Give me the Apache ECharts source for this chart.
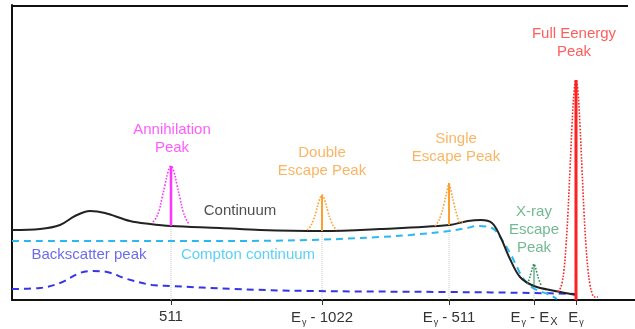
<!DOCTYPE html>
<html>
<head>
<meta charset="utf-8">
<script src="https://cdn.jsdelivr.net/npm/echarts@6/dist/echarts.min.js"></script>
<style>html,body{margin:0;padding:0;background:#fff}#c{width:635px;height:329px}</style>
</head>
<body>
<div id="c"></div>
<script>
// x: schematic channel, y: schematic counts
const continuum = [[0,70],[28,71],[48,75],[63,84],[78,89],[93,87],[118,79],[138,76],[159,74],[208,72],[248,70],[310,69],[368,71],[437,75],[456,79],[469,80],[480,77],[488,64],[498,41],[508,23],[522,14],[543,9],[564,5]];
const compton = [[0,59],[100,59],[200,59],[298,60],[368,63],[398,65],[437,69],[455,72],[465,74],[480,72],[488,63],[498,47],[505,33],[511,22],[521,12],[538,5],[545,1]];
const backscatter = [[0,11],[28,12],[48,17],[68,27],[80,29],[95,28],[115,21],[140,15],[159,14],[221,11],[298,9],[437,8],[522,7],[564,6]];
const annihilationPeak = [[141,78],[144,82],[147,89],[150,102],[153,115],[156,128],[159,134],[162,128],[165,115],[168,102],[171,89],[174,81],[177,76]];
const doubleEscapePeak = [[295,70],[298,73],[301,79],[304,88],[307,99],[310,105],[313,99],[316,88],[319,79],[322,73],[325,70]];
const singleEscapePeak = [[423,74],[426,78],[429,85],[432,96],[435,109],[437,116],[439,109],[442,96],[445,85],[448,78],[451,78]];
const xrayEscapePeak = [[515,16],[517,20],[519,27],[521,34],[522,36],[523,34],[525,27],[527,20],[529,15]];
const fullEnergyPeak = [[546,8],[548,11],[550,17],[552,30],[554,54],[556,88],[558,131],[560,174],[562,208],[564,220],[566,208],[568,174],[570,131],[572,88],[574,54],[576,30],[578,15],[580,7],[582,3],[586,3]];
const tickPositions = [159, 310, 437, 522, 564];
const tickLabels = ['511', '{e|E}{s|γ}{e| - 1022}', '{e|E}{s|γ}{e| - 511}', '{e|E}{s|γ}{e| - E}{x|X}', '{e|E}{s|γ}'];
const contAtTicks = [74, 69, 75, 14];
const annotations = [
  {text: 'Annihilation\nPeak', x: 160, y: 161, color: '#ff33ff'},
  {text: 'Double\nEscape Peak', x: 310, y: 138, color: '#f9a23c'},
  {text: 'Single\nEscape Peak', x: 444, y: 152, color: '#f9a23c'},
  {text: 'Full Eenergy\nPeak', x: 562, y: 257, color: '#ff3333'},
  {text: 'Continuum', x: 228, y: 89, color: '#222222'},
  {text: 'Backscatter peak', x: 77, y: 45, color: '#4646e6'},
  {text: 'Compton continuum', x: 236, y: 45, color: '#33c4f4'},
  {text: 'X-ray\nEscape\nPeak', x: 522, y: 70, color: '#4fa877'}
];
const topBorderY = 294;
const topBorderEnd = 616;

const FONT = 'Liberation Sans, Arial, sans-serif';
const series = [];
contAtTicks.forEach((c, i) => {
  series.push({type:'line', data:[[tickPositions[i],0],[tickPositions[i],c]], symbol:'none', lineStyle:{color:'#c8c8c8', width:1, type:'dotted'}, z:1});
});
series.push({type:'line', data:backscatter, smooth:0.35, symbol:'none', lineStyle:{color:'#3434e8', width:2, type:[7,5]}, z:3});
series.push({type:'line', data:compton, smooth:0.35, symbol:'none', lineStyle:{color:'#2ab8f0', width:2, type:[7,5]}, z:3});
series.push({type:'line', data:continuum, smooth:0.35, symbol:'none', lineStyle:{color:'#222222', width:2}, z:4,
  markLine:{silent:true, symbol:'none', label:{show:false}, lineStyle:{color:'#111', width:2, type:'solid'},
    data:[[{coord:[0,topBorderY]},{coord:[topBorderEnd,topBorderY]}]]}});
const peaks = [
  [annihilationPeak, '#ff33ff', 159, 74, 134, 2.5],
  [doubleEscapePeak, '#ff9f30', 310, 69, 105, 2],
  [singleEscapePeak, '#ff9f30', 437, 75, 117, 2],
  [xrayEscapePeak, '#2e8b57', 522, 14, 36, 1],
  [fullEnergyPeak, '#ff2020', 564, 0, 220, 3]
];
peaks.forEach(p => {
  series.push({type:'line', data:p[0], smooth:0.4, symbol:'none', lineStyle:{color:p[1], width:1.6, type:'dotted'}, z:5});
  series.push({type:'line', data:[[p[2],p[3]],[p[2],p[4]]], symbol:'none', lineStyle:{color:p[1], width:p[5]}, z:6});
});
annotations.forEach(a => {
  series.push({type:'scatter', data:[[a.x,a.y]], symbolSize:0, z:10,
    label:{show:true, position:'inside', formatter:a.text, color:a.color, fontSize:15, lineHeight:18, fontFamily:FONT}});
});

const chart = echarts.init(document.getElementById('c'), null, {renderer:'canvas'});
chart.setOption({
  animation:false,
  backgroundColor:'#ffffff',
  grid:{left:12, right:0, top:5, bottom:29},
  xAxis:{
    type:'value', min:0, max:623, position:'bottom',
    axisLine:{show:true, onZero:false, lineStyle:{color:'#111', width:2}},
    splitLine:{show:false},
    axisTick:{show:true, customValues:tickPositions, length:5, lineStyle:{color:'#333', width:1}},
    axisLabel:{show:true, customValues:tickPositions, margin:9,
      formatter:function(v){ const i = tickPositions.indexOf(v); return i>=0 ? tickLabels[i] : ''; },
      color:'#333', fontSize:15, fontFamily:FONT,
      rich:{e:{fontSize:15, color:'#333', fontFamily:FONT},
            s:{fontSize:9, color:'#333', padding:[9,0,0,1], fontFamily:FONT},
            x:{fontSize:11, color:'#333', padding:[7,0,0,1], fontFamily:FONT}}
    }
  },
  yAxis:{type:'value', min:0, max:295, position:'left',
    axisLine:{show:true, onZero:false, lineStyle:{color:'#111', width:2}},
    axisTick:{show:false}, axisLabel:{show:false}, splitLine:{show:false}},
  series:series
});
</script>
</body>
</html>
